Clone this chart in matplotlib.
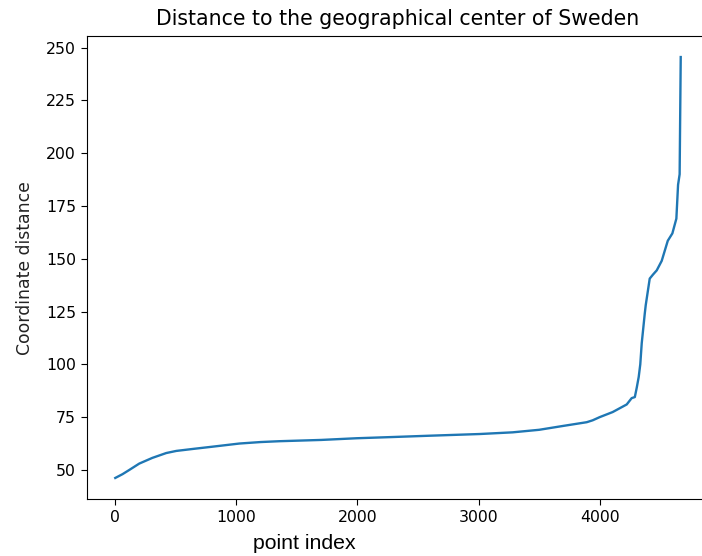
import matplotlib
matplotlib.use("Agg")
from matplotlib import pyplot as plt

# sorted distances (point index -> distance)
point_index = [0, 60, 116, 198, 306, 421, 504, 650, 802, 1025, 1200, 1355,
               1700, 1992, 2300, 2595, 3008, 3281, 3500, 3694, 3893, 3942,
               4000, 4107, 4223, 4264, 4290, 4306, 4322, 4335, 4347, 4372,
               4380, 4413, 4440, 4471, 4512, 4562, 4600, 4633, 4647, 4660,
               4669]
distance = [46.2, 48.0, 50.0, 53.0, 55.7, 58.0, 59.0, 60.0, 61.0, 62.5, 63.2,
            63.6, 64.2, 65.0, 65.6, 66.2, 67.0, 67.8, 69.0, 70.8, 72.6, 73.5,
            75.0, 77.4, 81.0, 84.0, 84.5, 89.0, 94.0, 100.0, 110.0, 124.0,
            128.0, 140.6, 142.5, 144.5, 149.0, 158.5, 162.0, 169.0, 185.0,
            190.0, 245.5]

W, H = 702, 556
fig = plt.figure(figsize=(W / 100, H / 100), dpi=100)
# axes runs past the right edge, like the cropped reference
ax = fig.add_axes([87 / W, (H - 499) / H, (709 - 87) / W, (499 - 36) / H])

ax.plot(point_index, distance, color="tab:blue", linewidth=1.7)
ax.spines["right"].set_visible(False)
ax.set_xticks([0, 1000, 2000, 3000, 4000])
ax.set_yticks([50, 75, 100, 125, 150, 175, 200, 225, 250])
ax.tick_params(labelsize=11.3, length=4, pad=4)
ax.set_title("Distance to the geographical center of Sweden", fontsize=14.8,
             pad=8)

fig.text(25 / W, 1 - 268 / H, "Coordinate distance", rotation=90,
         ha="center", va="center", fontsize=12.4, color="#222222")
fig.text(304.7 / W, 1 - 549 / H, "point index", ha="center", va="baseline",
         fontsize=15.3, family="Liberation Sans", color="black")

fig.savefig("out.png", dpi=100)
